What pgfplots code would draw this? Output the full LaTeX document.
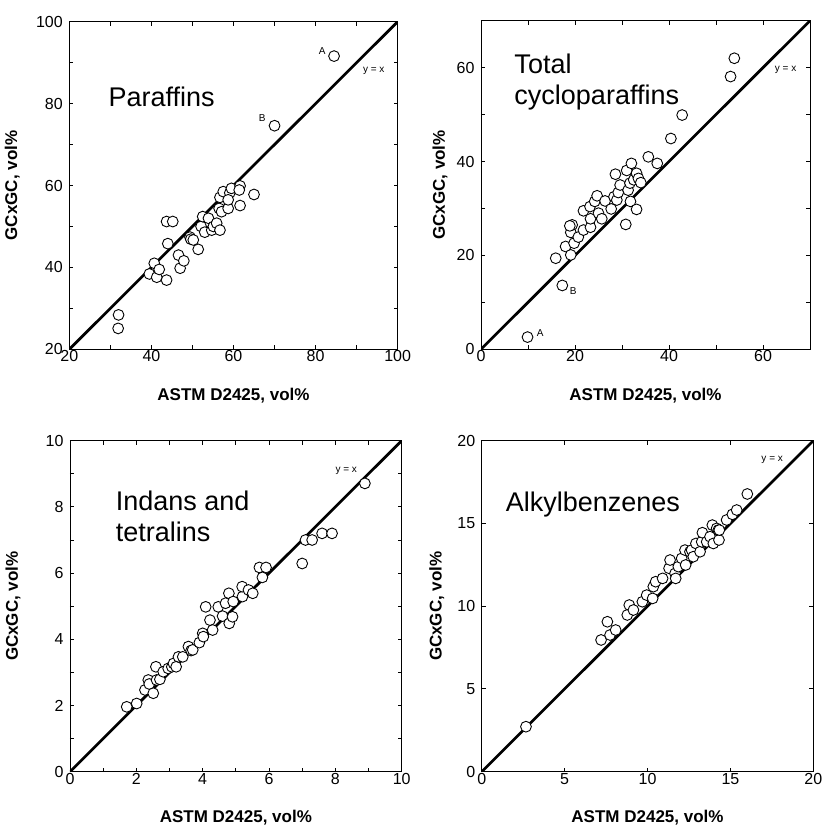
\documentclass[border=0pt]{standalone}
\usepackage{fontspec}
\setmainfont{Liberation Sans}
\usepackage{pgfplots}
\usepackage{pgfplotstable}
\pgfplotsset{compat=1.18}

\pgfplotstableread{
x y
84.5 91.6
70.0 74.6
32.0 28.4
31.9 25.1
39.5 38.4
40.7 41.0
41.3 37.6
41.9 39.5
43.7 36.9
44.0 45.8
43.7 51.2
45.2 51.2
46.6 43.0
47.0 39.8
47.9 41.6
49.4 47.4
49.6 46.9
50.2 46.7
51.4 44.4
52.1 50.0
52.5 52.4
53.0 48.6
53.9 52.0
54.7 49.1
55.1 50.0
55.9 50.8
56.7 49.1
56.5 54.4
57.1 53.6
56.7 57.1
57.5 58.5
58.7 54.4
59.1 58.2
58.7 56.5
59.5 59.3
61.6 59.9
61.4 58.9
61.6 55.1
65.0 57.8
}\paraffins

\pgfplotstableread{
x y
9.9 2.6
17.3 13.6
15.9 19.4
18.0 21.9
19.1 20.1
19.1 24.9
19.4 26.5
18.9 26.3
19.8 22.6
20.7 23.9
21.8 25.4
23.3 26.0
23.3 27.8
21.8 29.5
23.2 30.4
24.2 31.5
24.7 32.7
25.0 29.0
25.7 27.8
26.4 31.6
27.7 29.9
28.3 32.5
28.6 37.3
28.9 31.8
29.2 33.4
29.6 35.0
30.8 26.6
31.0 38.1
31.3 33.9
31.7 35.4
32.0 39.6
31.8 31.5
32.5 36.1
33.1 37.5
33.1 29.8
33.5 36.4
34.0 35.5
35.6 41.0
37.5 39.6
40.4 44.9
42.8 49.9
53.1 58.1
53.9 62.0
}\cyclo

\pgfplotstableread{
x y
1.71 1.96
2.01 2.06
2.26 2.47
2.36 2.77
2.39 2.65
2.51 2.37
2.59 3.17
2.61 2.77
2.71 2.79
2.81 3.02
2.96 3.12
3.07 3.17
3.12 3.27
3.20 3.17
3.27 3.47
3.40 3.47
3.57 3.78
3.65 3.66
3.70 3.68
3.90 3.90
4.00 4.18
4.02 4.08
4.09 4.98
4.22 4.58
4.30 4.28
4.47 4.98
4.60 4.70
4.69 5.09
4.79 5.39
4.80 4.48
4.90 4.68
4.92 5.14
5.20 5.29
5.19 5.59
5.38 5.49
5.51 5.39
5.71 6.17
5.91 6.17
5.80 5.87
7.00 6.29
7.10 7.00
7.30 7.00
7.60 7.20
7.90 7.20
8.89 8.71
}\indans

\pgfplotstableread{
x y
2.67 2.72
7.20 7.96
7.58 9.06
7.74 8.26
8.08 8.56
8.78 9.47
8.90 10.07
9.15 9.77
9.69 10.27
9.95 10.67
10.31 10.47
10.35 11.18
10.49 11.48
10.91 11.68
11.30 12.29
11.36 12.79
11.66 11.98
11.70 11.68
11.86 12.39
12.06 12.89
12.26 13.39
12.30 12.49
12.56 13.29
12.66 13.39
12.76 12.99
12.92 13.79
13.17 13.29
13.27 13.89
13.31 14.44
13.57 13.89
13.77 14.20
13.91 14.90
13.97 13.79
14.17 14.70
14.27 14.60
14.31 14.00
14.33 14.60
14.77 15.21
15.12 15.55
15.38 15.81
16.02 16.78
}\alkyl

\pgfplotsset{
  myax/.style={
    scale only axis,
    anchor=south west,
    tick align=inside,
    major tick length=4pt,
    minor tick length=4pt,
    axis line style={line width=0.9pt},
    every tick/.style={black, line width=0.9pt},
    tick label style={font=\fontsize{16}{19}\selectfont},
    xticklabel style={yshift=2pt},
    yticklabel style={xshift=-3pt},
    /pgf/number format/assume math mode=true,
    xlabel={ASTM D2425, vol\%},
    ylabel={GCxGC, vol\%},
    label style={font=\fontsize{17}{20}\selectfont\bfseries},
    xlabel style={at={(axis description cs:0.5,0)}, anchor=center, yshift=-46pt},
  },
  ylab/.style={ylabel style={at={(axis description cs:0,0.5)}, anchor=center, yshift=#1}},
  pts/.style={only marks, mark=*, mark size=5.4pt,
    mark options={fill=white, draw=black, line width=0.9pt}},
  diag/.style={black, line width=2.7pt, no marks},
}
\tikzset{
  ttl/.style={font=\fontsize{27}{31}\selectfont, anchor=west, align=left},
  yx/.style={font=\fontsize{10}{12}\selectfont},
  ab/.style={font=\fontsize{10}{12}\selectfont},
}

\begin{document}
\begin{tikzpicture}
\path[use as bounding box] (0,0) rectangle (822pt,826pt);

% Paraffins
\begin{axis}[myax, ylab=57pt, at={(69.3pt,476.7pt)}, width=328.4pt, height=327.6pt,
  xmin=20, xmax=100, ymin=20, ymax=100,
  xtick={20,40,60,80,100}, ytick={20,40,60,80,100},
  minor xtick={30,50,70,90}, minor ytick={30,50,70,90}]
  \addplot[diag] coordinates {(20,20) (100,100)};
  \addplot[pts] table {\paraffins};
  \node[ttl] at (axis description cs:0.109,0.77) {Paraffins};
  \node[yx] at (axis description cs:0.927,0.8495) {y = x};
  \node[ab] at (axis cs:81.6,92.8) {A};
  \node[ab] at (axis cs:67.0,76.4) {B};
\end{axis}

% Total cycloparaffins
\begin{axis}[myax, ylab=41pt, at={(481pt,476.7pt)}, width=329pt, height=328.6pt,
  xmin=0, xmax=70, ymin=0, ymax=70,
  xtick={0,20,40,60}, ytick={0,20,40,60},
  minor xtick={10,30,50,70}, minor ytick={10,30,50,70}]
  \addplot[diag] coordinates {(0,0) (70,70)};
  \addplot[pts] table {\cyclo};
  \node[ttl] at (axis description cs:0.091,0.812) {Total\\cycloparaffins};
  \node[yx] at (axis description cs:0.926,0.850) {y = x};
  \node[ab] at (axis cs:12.6,3.5) {A};
  \node[ab] at (axis cs:19.6,12.5) {B};
\end{axis}

% Indans and tetralins
\begin{axis}[myax, ylab=57pt, at={(70pt,54.3pt)}, width=331.7pt, height=331pt,
  xmin=0, xmax=10, ymin=0, ymax=10,
  xtick={0,2,4,6,8,10}, ytick={0,2,4,6,8,10},
  minor xtick={1,3,5,7,9}, minor ytick={1,3,5,7,9}]
  \addplot[diag] coordinates {(0,0) (10,10)};
  \addplot[pts] table {\indans};
  \node[ttl] at (axis description cs:0.1275,0.770) {Indans and\\tetralins};
  \node[yx] at (axis description cs:0.833,0.909) {y = x};
\end{axis}

% Alkylbenzenes
\begin{axis}[myax, ylab=45pt, at={(481.7pt,54.3pt)}, width=331.6pt, height=331pt,
  xmin=0, xmax=20, ymin=0, ymax=20,
  xtick={0,5,10,15,20}, ytick={0,5,10,15,20}]
  \addplot[diag] coordinates {(0,0) (20,20)};
  \addplot[pts] table {\alkyl};
  \node[ttl] at (axis description cs:0.062,0.806) {Alkylbenzenes};
  \node[yx] at (axis description cs:0.876,0.942) {y = x};
\end{axis}
\end{tikzpicture}
\end{document}
